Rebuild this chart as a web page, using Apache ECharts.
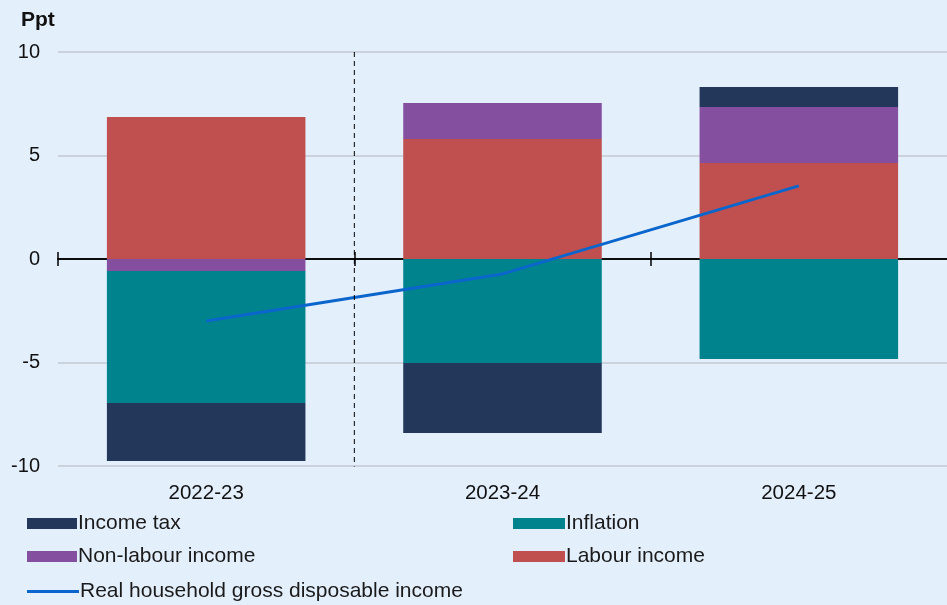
<!DOCTYPE html>
<html><head><meta charset="utf-8">
<script src="https://cdn.jsdelivr.net/npm/echarts@6/dist/echarts.min.js"></script>
<style>html,body{margin:0;padding:0;background:#E4EFFC;}#c{width:947px;height:605px;}</style>
</head><body><div id="c"></div>
<script>
const categories = ['2022-23', '2023-24', '2024-25'];
const incomeTax = [-2.8, -3.38, 0.97];
const inflation = [-6.38, -5.02, -4.83];
const nonLabour = [-0.58, 1.74, 2.7];
const labour = [6.86, 5.8, 4.64];
const rhgdi = [-3.0, -0.72, 3.53];
const yTicks = [-10, -5, 0, 5, 10];
const boundaryTicks = [0, 1, 2]; // category boundaries marked on the zero line
const dividerX = 1; // boundary between first and second category

const font = 'Liberation Sans, Arial, sans-serif';
const chart = echarts.init(document.getElementById('c'));
const barBase = { type: 'bar', stack: 'total', xAxisIndex: 0, barCategoryGap: '33%' };
const legendText = { fontSize: 21, color: '#1a1a1a', fontFamily: font, padding: [0,0,0,-4] };
const zeroAxis = (inside) => ({
  type: 'value', min: 0, max: categories.length, position: 'bottom',
  axisLine: { show: true, onZero: true, onZeroAxisIndex: 0, lineStyle: { color: '#000', width: 1.5 } },
  axisTick: { show: true, inside: inside, length: 7, customValues: boundaryTicks, lineStyle: { color: '#000', width: 1.5 } },
  axisLabel: { show: false }, splitLine: { show: false }
});
chart.setOption({
  backgroundColor: '#E4EFFC',
  animation: false,
  textStyle: { fontFamily: font },
  title: { text: 'Ppt', left: 16, top: 5, textStyle: { fontFamily: font, fontSize: 21, fontWeight: 'bold', color: '#111' } },
  grid: { left: 58, right: 0, top: 52, bottom: 139, containLabel: false },
  legend: [
    { left: 22, top: 508, orient: 'vertical', itemWidth: 50, itemHeight: 11, itemGap: 12,
      textStyle: legendText,
      data: [{ name: 'Income tax', icon: 'rect' }, { name: 'Non-labour income', icon: 'rect' }] },
    { left: 22, top: 576, orient: 'vertical', itemWidth: 52, itemHeight: 3,
      textStyle: legendText,
      data: [{ name: 'Real household gross disposable income', icon: 'rect' }] },
    { left: 508, top: 508, orient: 'vertical', itemWidth: 52, itemHeight: 11, itemGap: 12,
      textStyle: legendText,
      data: [{ name: 'Inflation', icon: 'rect' }, { name: 'Labour income', icon: 'rect' }] }
  ],
  xAxis: [
    { type: 'category', data: categories, position: 'bottom', axisLine: { show: false, onZero: false }, axisTick: { show: false },
      axisLabel: { fontSize: 20.5, color: '#111', margin: 17, fontFamily: font } },
    zeroAxis(false),
    zeroAxis(true)
  ],
  yAxis: {
    type: 'value', min: -10, max: 10, interval: 5,
    axisLine: { show: false }, axisTick: { show: false },
    axisLabel: { fontSize: 20, color: '#111', margin: 18, fontFamily: font,
      formatter: v => yTicks.includes(v) ? String(v) : '' },
    splitLine: { lineStyle: { color: '#C3C8D0', width: 1.5 } }
  },
  series: [
    Object.assign({}, barBase, { name: 'Labour income', data: labour, itemStyle: { color: '#C0504F' } }),
    Object.assign({}, barBase, { name: 'Non-labour income', data: nonLabour, itemStyle: { color: '#854F9F' } }),
    Object.assign({}, barBase, { name: 'Inflation', data: inflation, itemStyle: { color: '#00838C' } }),
    Object.assign({}, barBase, { name: 'Income tax', data: incomeTax, itemStyle: { color: '#22375A' } }),
    { name: 'Real household gross disposable income', type: 'line', xAxisIndex: 0, data: rhgdi,
      showSymbol: false, symbol: 'none', lineStyle: { color: '#0A66CC', width: 3 }, itemStyle: { color: '#0A66CC' }, z: 5 },
    { name: 'divider', type: 'line', xAxisIndex: 1, data: [[dividerX, 10], [dividerX, -10.2]], showSymbol: false, symbol: 'none',
      lineStyle: { color: '#000', width: 1, type: [5, 4] }, z: 6, silent: true }
  ]
});
</script></body></html>
